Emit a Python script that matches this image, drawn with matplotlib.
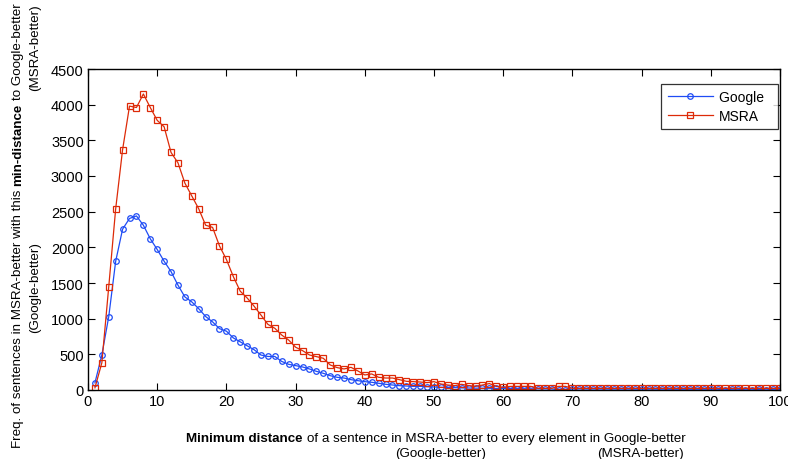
import matplotlib
matplotlib.use("Agg")
import matplotlib.pyplot as plt

plt.rcParams['font.family'] = ['Liberation Sans', 'DejaVu Sans']

# Minimum distance (x) and frequencies for each system
distance = list(range(1, 101))
google = [100, 490, 1030, 1805, 2255, 2405, 2440, 2310, 2120, 1970,
          1805, 1660, 1470, 1305, 1235, 1140, 1030, 955, 860, 825,
          730, 675, 620, 565, 490, 470, 470, 400, 360, 342,
          323, 295, 262, 234, 201, 178, 168, 145, 131, 117,
          108, 94, 80, 70, 61, 56, 51, 51, 47, 42,
          38, 35, 33, 30, 28, 26, 25, 24, 22, 21,
          20, 19, 18, 17, 16, 15, 14, 6, 5, 14,
          14, 13, 13, 13, 12, 12, 12, 12, 11, 11,
          11, 11, 11, 10, 10, 10, 10, 10, 10, 10,
          10, 3, 10, 10, 3, 3, 10, 2, 10, 10]
msra = [30, 380, 1450, 2540, 3370, 3980, 3960, 4150, 3960, 3780,
        3690, 3330, 3185, 2900, 2720, 2540, 2310, 2280, 2020, 1830,
        1590, 1385, 1290, 1175, 1050, 920, 865, 770, 700, 600,
        552, 491, 468, 445, 351, 314, 295, 318, 267, 211,
        225, 178, 168, 168, 145, 122, 117, 112, 103, 117,
        84, 70, 61, 80, 61, 51, 70, 90, 51, 37,
        51, 51, 51, 51, 23, 23, 23, 51, 51, 23,
        23, 23, 23, 23, 23, 23, 23, 23, 23, 23,
        23, 23, 23, 23, 23, 23, 23, 23, 23, 23,
        23, 23, 23, 23, 23, 23, 23, 23, 23, 23]

xticks = list(range(0, 101, 10))
yticks = list(range(0, 4501, 500))

fig = plt.figure(figsize=(7.88, 4.6), dpi=100)
ax = fig.add_axes([88 / 788, 1 - 391 / 460, 692 / 788, 321 / 460])

ax.plot(distance, google, color='#1f4cf5', lw=0.9, marker='o', ms=4,
        mfc='none', mew=0.9, label='Google  ')
ax.plot(distance, msra, color='#dd2a08', lw=0.9, marker='s', ms=5,
        mfc='none', mew=0.9, label='MSRA')

ax.set_xlim(0, 100)
ax.set_ylim(0, 4500)
ax.set_xticks(xticks)
ax.set_yticks(yticks)
ax.tick_params(direction='in', length=5, width=0.8, top=True, right=True,
               labelsize=10.5, pad=3)
for s in ax.spines.values():
    s.set_linewidth(1.0)

leg = ax.legend(loc='upper right', bbox_to_anchor=(0.997, 0.953), fontsize=10,
                frameon=True, fancybox=False, handlelength=3.25,
                borderaxespad=0, borderpad=0.45, labelspacing=0.35,
                handletextpad=0.45)
leg.get_frame().set_edgecolor('black')
leg.get_frame().set_linewidth(0.9)

# labels with mixed bold / regular pieces, placed in pixels
fig.canvas.draw()
r = fig.canvas.get_renderer()
LSIZE = 9.6


def text_width(s, weight):
    t = fig.text(0, 0, s, fontsize=LSIZE, fontweight=weight)
    w = t.get_window_extent(r).width
    t.remove()
    return w


space = text_width('x x', 'normal') - text_width('xx', 'normal')


def pieces_row(cx, cy, pieces, vertical=False):
    widths = [text_width(s, w) for s, w in pieces]
    total = sum(widths) + space * (len(pieces) - 1)
    pos = -total / 2
    for (s, w), wd in zip(pieces, widths):
        if vertical:
            fig.text(cx, cy + pos, s, transform=None, fontsize=LSIZE,
                     fontweight=w, rotation=90, rotation_mode='anchor',
                     ha='left', va='baseline')
        else:
            fig.text(cx + pos, cy, s, transform=None, fontsize=LSIZE,
                     fontweight=w, ha='left', va='baseline')
        pos += wd + space


pieces_row(436, 460 - 442, [('Minimum distance', 'bold'),
                            ('of a sentence in MSRA-better to every element in Google-better', 'normal')])
fig.text(441, 460 - 457, '(Google-better)', transform=None, fontsize=LSIZE, ha='center', va='baseline')
fig.text(640, 460 - 457, '(MSRA-better)', transform=None, fontsize=LSIZE, ha='center', va='baseline')

pieces_row(21, 460 - 226, [('Freq. of sentences in MSRA-better with this', 'normal'),
                           ('min-distance', 'bold'),
                           ('to Google-better', 'normal')], vertical=True)
fig.text(38, 460 - 288, '(Google-better)', transform=None, fontsize=LSIZE,
         rotation=90, rotation_mode='anchor', ha='center', va='baseline')
fig.text(38, 460 - 48, '(MSRA-better)', transform=None, fontsize=LSIZE,
         rotation=90, rotation_mode='anchor', ha='center', va='baseline')

fig.savefig('out.png', dpi=100)
